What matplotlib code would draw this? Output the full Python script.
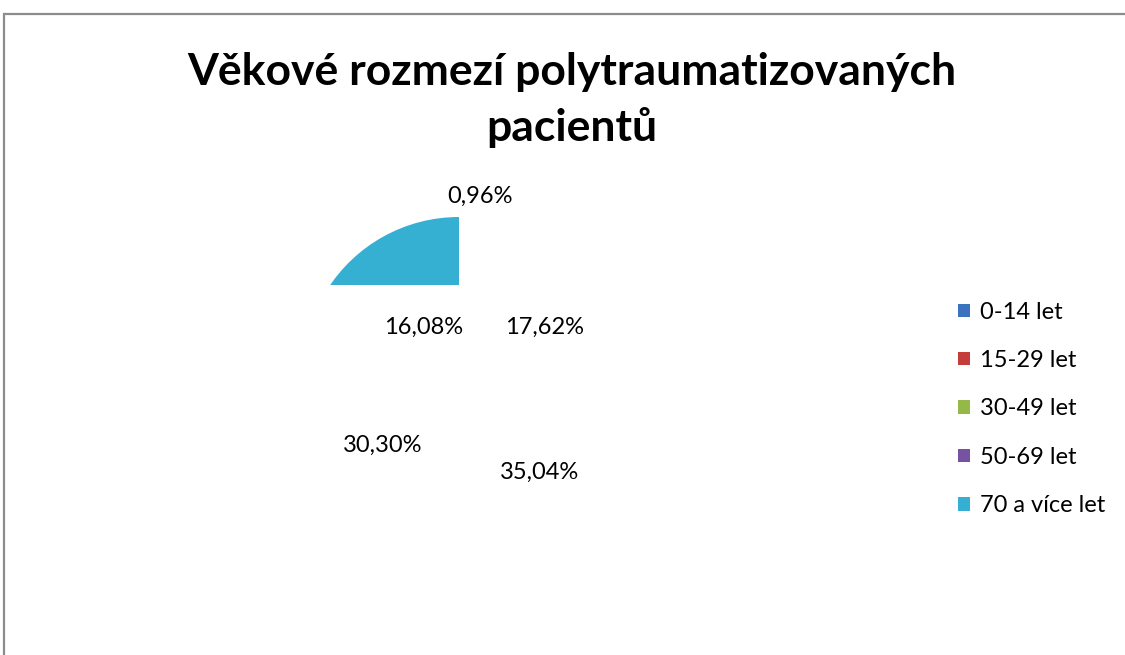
import matplotlib.pyplot as plt
from matplotlib.patches import Rectangle

categories = ["0-14 let", "15-29 let", "30-49 let", "50-69 let", "70 a více let"]
shares = [0.96, 17.62, 35.04, 30.30, 16.08]
colors = ["#3b73bf", "#c43d3a", "#94b946", "#7752a0", "#35afd2"]
label_texts = ["0,96%", "17,62%", "35,04%", "30,30%", "16,08%"]

W, H = 1125, 655
plt.rcParams['font.family'] = ['Lato', 'DejaVu Sans']

fig = plt.figure(figsize=(W / 100, H / 100), dpi=100, facecolor='white')

# chart frame (runs off the right/bottom edge like the original)
frame = Rectangle((3.5 / W, -0.1), 1.2, 1 - 13.5 / H + 0.1, transform=fig.transFigure,
                  fill=False, edgecolor='#8c8c8c', lw=1.6)
fig.add_artist(frame)

fig.text(572 / W, 1 - 100 / H, "Věkové rozmezí polytraumatizovaných\npacientů",
         ha='center', va='center', fontsize=32, fontweight='bold', linespacing=1.42)

# pie: centre ~ (459, 373) px, radius ~156 px; only the part above y=285 px shows
cx, cy, R = 459, 373, 156
cut = 285
clip_y = (cy - cut) / R
ax = fig.add_axes([(cx - R) / W, 1 - cut / H, 2 * R / W, (cut - (cy - R) + 2) / H])

wedges, _ = ax.pie(shares, colors=colors, startangle=90, counterclock=False,
                   radius=1, center=(0, 0), frame=True)
ax.set_aspect('auto')
ax.set_xlim(-1, 1)
ax.set_ylim(clip_y, 1 + 2 / R)
ax.axis('off')

for i, w in enumerate(wedges):
    w.set_edgecolor('none')
    w.set_clip_on(True)
    if i < len(wedges) - 1:
        w.set_visible(False)

# data labels
label_pos = [(480, 196), (545, 327), (540, 472), (383, 445), (424, 327)]
for txt, (px, py) in zip(label_texts, label_pos):
    fig.text(px / W, 1 - py / H, txt, ha='center', va='center', fontsize=17)

# legend
handles = [Rectangle((0, 0), 1, 1, facecolor=c, edgecolor='none') for c in colors]
leg = fig.legend(handles, categories, loc='center left', bbox_to_anchor=(958 / W, 1 - 409 / H),
                 frameon=False, fontsize=17, handlelength=0.5, handleheight=0.5,
                 handletextpad=0.42, labelspacing=1.16, borderpad=0, borderaxespad=0)

fig.savefig('out.png', dpi=100, facecolor='white')
